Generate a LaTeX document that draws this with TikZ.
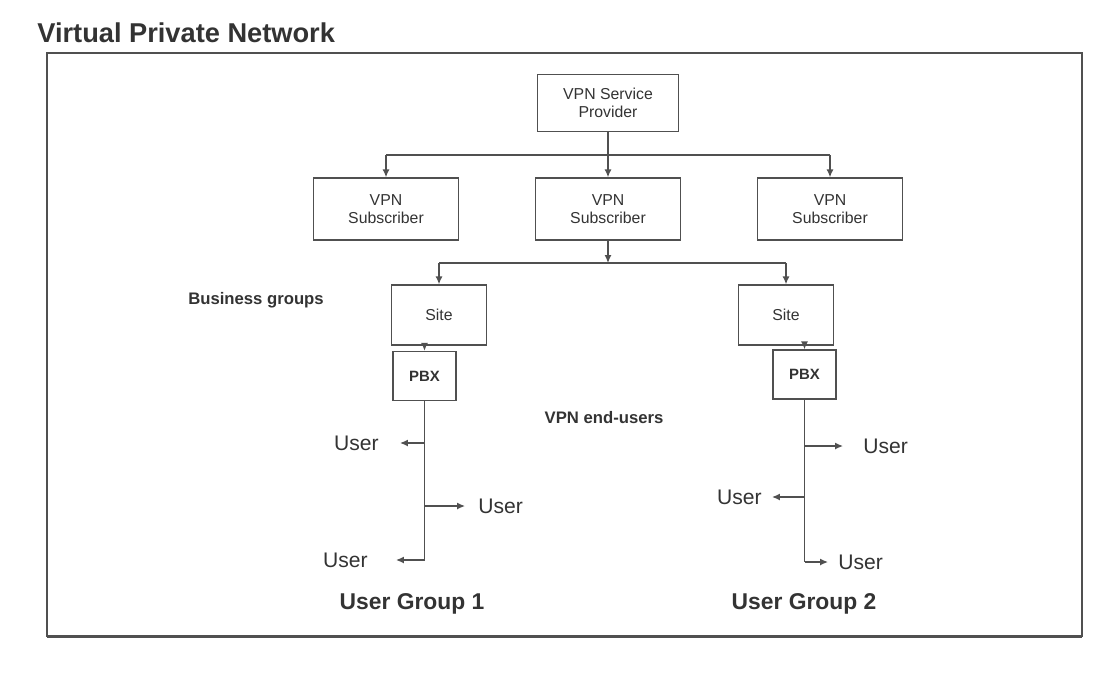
\documentclass[tikz,border=0pt]{standalone}
\usepackage{fontspec}
\setmainfont{Liberation Sans}
\usetikzlibrary{arrows.meta}
\definecolor{linegray}{HTML}{505050}
\definecolor{textgray}{HTML}{333333}

\tikzset{
  box/.style={draw=linegray, line width=0.8pt, fill=white, align=center, inner sep=0pt,
    text=textgray, font=\fontsize{9}{10.5}\selectfont},
  pbxbox/.style={box, font=\bfseries\fontsize{8.5}{10}\selectfont},
  user/.style={inner sep=0pt, text=textgray, font=\fontsize{12}{14}\selectfont},
  group/.style={inner sep=0pt, text=textgray, font=\bfseries\fontsize{13}{15}\selectfont},
  note/.style={inner sep=0pt, text=textgray, font=\bfseries\fontsize{9.5}{11}\selectfont},
  wire/.style={draw=linegray, line width=0.8pt},
  arr/.style={wire, -{Latex[length=4.5pt,width=4pt]}}
}

\begin{document}
\begin{tikzpicture}[x=0.02cm, y=-0.02cm]
\useasboundingbox (0,0) rectangle (1109,680);
\fill [white] (0,0) rectangle (1109,680);

\node [anchor=west, inner sep=0pt, text=textgray, font=\bfseries\fontsize{15.5}{18}\selectfont] (title) at (37,33) {Virtual Private Network};
\draw [linegray, line width=1.1pt] (47,53) rectangle (1082,636);
\draw [linegray, line width=1.6pt] (47,636.5) -- (1082,636.5);

% provider and subscribers
\node [box, minimum width=2.82cm, minimum height=1.14cm] (prov) at (608,103) {VPN Service\\Provider};
\node [box, minimum width=2.9cm, minimum height=1.24cm] (sub1) at (386,209) {VPN\\Subscriber};
\node [box, minimum width=2.9cm, minimum height=1.24cm] (sub2) at (608,209) {VPN\\Subscriber};
\node [box, minimum width=2.9cm, minimum height=1.24cm] (sub3) at (830,209) {VPN\\Subscriber};

\coordinate (bus0) at (608,155);
\draw [wire] (prov.south) -- (bus0);
\draw [wire] (bus0 -| sub1) -- (bus0 -| sub3);
\draw [arr] (bus0 -| sub1) -- (sub1);
\draw [arr] (bus0) -- (sub2);
\draw [arr] (bus0 -| sub3) -- (sub3);

% sites
\node [box, minimum width=1.9cm, minimum height=1.2cm] (site1) at (439,315) {Site};
\node [box, minimum width=1.9cm, minimum height=1.2cm] (site2) at (786,315) {Site};

\coordinate (bus1) at (608,263);
\draw [arr] (sub2.south) -- (bus1);
\draw [wire] (bus1 -| site1) -- (bus1 -| site2);
\draw [arr] (bus1 -| site1) -- (site1);
\draw [arr] (bus1 -| site2) -- (site2);

\node [note] (business) at (256,300) {Business groups};
\node [note] (endusers) at (604,418) {VPN end-users};

% PBX
\node [pbxbox, minimum width=1.26cm, minimum height=0.98cm] (pbx1) at (424.5,376) {PBX};
\node [pbxbox, minimum width=1.26cm, minimum height=0.98cm] (pbx2) at (804.5,374.5) {PBX};
\draw [arr] (site1.south -| pbx1) -- (pbx1);
\draw [arr] (site2.south -| pbx2) -- (pbx2);

% user group 1
\coordinate (b11) at (424.5,443);
\coordinate (b12) at (424.5,506);
\coordinate (b13) at (424.5,560);
\draw [wire] (pbx1.south) -- (b13);
\node [user, anchor=east] (u11) at (379,443) {User};
\node [user, anchor=west] (u12) at (478,506) {User};
\node [user, anchor=east] (u13) at (368,560) {User};
\draw [arr, shorten >=0.42cm] (b11) -- (u11.east);
\draw [arr, shorten >=0.26cm] (b12) -- (u12.west);
\draw [arr, shorten >=0.56cm] (b13) -- (u13.east);
\node [group] (g1) at (412,604) {User Group 1};

% user group 2
\coordinate (b21) at (804.5,446);
\coordinate (b22) at (804.5,497);
\coordinate (b23) at (804.5,562);
\draw [wire] (pbx2.south) -- (b23);
\node [user, anchor=west] (u21) at (863,446) {User};
\node [user, anchor=east] (u22) at (762,497) {User};
\node [user, anchor=west] (u23) at (838,562) {User};
\draw [arr, shorten >=0.4cm] (b21) -- (u21.west);
\draw [arr, shorten >=0.2cm] (b22) -- (u22.east);
\draw [arr, shorten >=0.2cm] (b23) -- (u23.west);
\node [group] (g2) at (804,604) {User Group 2};
\end{tikzpicture}
\end{document}
